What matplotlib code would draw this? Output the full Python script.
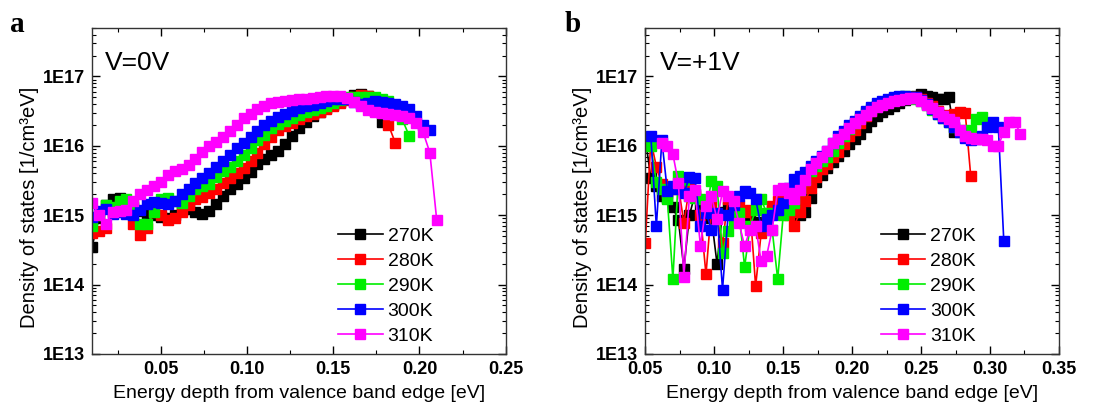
import numpy as np
import matplotlib.pyplot as plt
from matplotlib.ticker import MultipleLocator, FixedLocator, FuncFormatter, LogLocator, NullFormatter

plt.rcParams['font.family'] = ['Liberation Sans', 'DejaVu Sans']

# --- data -------------------------------------------------------------
# density of states, in units of 1E15 1/cm^3eV
temps = ["270K", "280K", "290K", "300K", "310K"]
colors = ["#000000", "#ff0000", "#00ee00", "#0000ff", "#ff00ff"]
UNIT = 1e15

# (a) V = 0 V  -- energy grid, 0.004 eV steps
energy_a = [0.010, 0.014, 0.018, 0.022, 0.026, 0.030, 0.034, 0.038, 0.042, 0.046,
            0.050, 0.054, 0.058, 0.062, 0.066, 0.070, 0.074, 0.078, 0.082, 0.086,
            0.090, 0.094, 0.098, 0.102, 0.106, 0.110, 0.114, 0.118, 0.122, 0.126,
            0.130, 0.134, 0.138, 0.142, 0.146, 0.150, 0.154, 0.158, 0.162, 0.166,
            0.170, 0.174, 0.178, 0.182, 0.186, 0.190, 0.194, 0.198, 0.202, 0.206,
            0.210]

dos_a_270 = [0.35, 0.9, 1.4, 1.7, 1.8, 1.6, 1.3, 1.15, 1.05, 1.0,
             0.95, 0.9, 1.0, 1.2, 1.25, 1.1, 1.05, 1.15, 1.45, 1.9,
             2.4, 2.8, 3.4, 4.2, 5.4, 6.5, 7.5, 8.5, 10.5, 14,
             18, 22, 27, 31, 35, 39, 43, 48, 54, 56,
             53, 32, 22]
dos_a_280 = [0.55, 0.6, 0.65, 1.1, 1.4, 1.3, 0.75, 0.52, 0.65, 1.1,
             1.0, 0.85, 0.9, 1.1, 1.4, 1.7, 1.85, 2.1, 2.4, 2.9,
             3.4, 4.0, 4.8, 6.0, 7.8, 10.5, 13.5, 17, 19.5, 21.5,
             24, 27, 29, 31, 34, 38, 42, 46, 51, 54,
             52, 42, 32, 20, 11]
dos_a_290 = [0.7, 1.0, 1.4, 1.3, 1.6, 1.7, 1.4, 0.75, 0.75, 1.1,
             1.7, 1.75, 1.6, 1.5, 1.9, 2.4, 2.6, 2.8, 3.6, 4.3,
             5.0, 6.0, 7.4, 9.2, 12, 14.5, 18, 20.5, 22.5, 25,
             28, 30.5, 33, 35, 38, 42, 46, 50, 51, 50,
             50, 50, 48, 44, 36, 24, 14]
dos_a_300 = [0.95, 1.15, 1.25, 1.05, 1.1, 1.05, 1.0, 1.2, 1.45, 1.55,
             1.5, 1.45, 1.6, 2.0, 2.4, 2.9, 3.4, 4.0, 4.9, 6.0,
             7.5, 9.2, 11, 13.5, 16.5, 20, 23, 26, 29, 32,
             35, 37.5, 39, 41, 44, 47, 48, 47, 43, 40,
             42, 44, 43, 42, 40, 38, 34, 27, 20, 17]
dos_a_310 = [1.5, 1.0, 0.75, 1.1, 1.15, 1.2, 1.6, 2.0, 2.3, 2.6,
             3.0, 3.8, 4.3, 4.7, 5.3, 6.5, 8.2, 9.8, 11.5, 13.5,
             16.5, 20, 25, 29, 34, 38, 41, 43, 45, 46,
             47, 48, 49, 50, 52, 53, 52, 49, 43, 37,
             33, 31, 30, 29, 28, 27, 25, 21, 16, 8,
             0.85]

# (b) V = +1 V  -- energy grid, 0.004 eV steps
energy_b = [0.050, 0.054, 0.058, 0.062, 0.066, 0.070, 0.074, 0.078, 0.082, 0.086,
            0.090, 0.094, 0.098, 0.102, 0.106, 0.110, 0.114, 0.118, 0.122, 0.126,
            0.130, 0.134, 0.138, 0.142, 0.146, 0.150, 0.154, 0.158, 0.162, 0.166,
            0.170, 0.174, 0.178, 0.182, 0.186, 0.190, 0.194, 0.198, 0.202, 0.206,
            0.210, 0.214, 0.218, 0.222, 0.226, 0.230, 0.234, 0.238, 0.242, 0.246,
            0.250, 0.254, 0.258, 0.262, 0.266, 0.270, 0.274, 0.278, 0.282, 0.286,
            0.290, 0.294, 0.298, 0.302, 0.306, 0.310, 0.314, 0.318, 0.322]
start_b = [0, 0, 0, 1, 3]   # first grid point of each curve

dos_b_270 = [13, 3.4, 2.6, 1.9, 1.8, 1.3, 0.85, 0.17, 1.0, 2.0,
             1.3, 1.0, 0.9, 0.2, 1.1, 1.3, 1.4, 1.2, 1.1, 1.0,
             0.8, 0.62, 0.9, 1.2, 1.3, 1.2, 1.05, 1.0, 1.0, 1.1,
             1.8, 3.0, 3.8, 4.8, 5.8, 7.2, 8.5, 10.5, 12.5, 15,
             19, 23, 27, 31, 34, 37, 41, 46, 50, 53,
             55, 53, 50, 47, 48, 51, 16]
dos_b_280 = [0.4, 12, 5.0, 2.8, 2.1, 2.4, 2.6, 0.77, 2.6, 1.9,
             1.0, 0.14, 1.35, 0.9, 0.4, 1.7, 1.5, 1.35, 1.1, 1.2,
             0.095, 0.55, 0.9, 1.35, 1.6, 1.7, 1.0, 0.7, 1.1, 1.6,
             2.5, 3.5, 4.6, 5.5, 6.8, 8.2, 10.5, 14, 17, 21,
             27, 32, 37, 41, 44, 47, 49, 50, 50, 50,
             47, 42, 37, 32, 28, 27, 29, 31, 30, 3.7]
dos_b_290 = [12, 10, 3.0, 2.4, 1.7, 0.12, 3.7, 3.2, 1.9, 1.8,
             1.7, 1.2, 3.1, 2.6, 0.29, 0.6, 0.8, 1.08, 0.18, 0.69,
             1.2, 1.7, 1.08, 0.62, 0.12, 1.0, 1.2, 1.5, 2.3, 3.2,
             4.4, 5.2, 6.0, 6.8, 8.5, 11, 14, 17.5, 21, 25,
             30, 34, 38, 41, 45, 49, 51, 52, 50, 48,
             45, 39, 33, 29, 25, 22, 19, 17, 16, 17,
             24, 26, 20]
dos_b_300 = [14, 0.69, 12, 2.2, 2.6, 2.4, 2.1, 3.5, 3.4, 0.69,
             1.08, 0.62, 1.08, 0.085, 1.0, 1.4, 1.9, 2.2, 2.1, 1.7,
             0.69, 0.87, 1.0, 1.2, 1.5, 2.5, 3.3, 3.7, 4.2, 5.1,
             6.0, 7.2, 8.5, 11, 14, 16.5, 20, 23, 27, 32,
             36, 41, 45, 48, 50, 52, 52, 51, 50, 46,
             40, 34, 29, 25, 22, 19, 16, 13, 12, 12.5,
             14, 19, 22, 19, 0.42]
dos_b_310 = [11, 10, 7.6, 2.9, 0.13, 1.9, 2.3, 0.36, 1.35, 1.9,
             0.87, 2.2, 1.9, 1.6, 0.77, 0.36, 0.62, 0.69, 0.22, 0.26,
             0.62, 2.3, 2.5, 2.1, 1.7, 2.3, 3.2, 4.6, 5.6, 7.0,
             8.5, 11, 12.5, 15, 18, 21, 24, 28, 32, 36,
             39, 42, 44, 46, 48, 49, 49, 45, 39, 35,
             31, 27, 24, 22, 17, 14, 13, 12.5, 12.5, 12,
             10, 10, 16, 22, 22, 15]

series_a = [dos_a_270, dos_a_280, dos_a_290, dos_a_300, dos_a_310]
series_b = [dos_b_270, dos_b_280, dos_b_290, dos_b_300, dos_b_310]

# --- plot -------------------------------------------------------------
fig = plt.figure(figsize=(11.18, 4.12), dpi=100)
ax_a = fig.add_axes([0.0823, 0.1408, 0.3700, 0.7913])
ax_b = fig.add_axes([0.5772, 0.1408, 0.3700, 0.7913])

for i, (vals, c, t) in enumerate(zip(series_a, colors, temps)):
    x = energy_a[:len(vals)]
    ax_a.plot(x, np.array(vals) * UNIT, color=c, lw=1.2, marker="s", ms=7,
              mec=c, mfc=c, label=t)

for i, (vals, c, t) in enumerate(zip(series_b, colors, temps)):
    s = start_b[i]
    x = energy_b[s:s + len(vals)]
    ax_b.plot(x, np.array(vals) * UNIT, color=c, lw=1.2, marker="s", ms=7,
              mec=c, mfc=c, label=t)

def dec_fmt(v, pos):
    return "1E%d" % int(round(np.log10(v)))

for ax, xlim, txt, tx, lx in [(ax_a, (0.01, 0.25), "V=0V", 0.03, 0.846),
                              (ax_b, (0.05, 0.35), "V=+1V", 0.035, 0.82)]:
    ax.set_yscale("log")
    ax.set_ylim(1e13, 5e17)
    ax.set_xlim(*xlim)
    ax.xaxis.set_major_locator(MultipleLocator(0.05))
    ax.xaxis.set_minor_locator(MultipleLocator(0.025))
    ax.xaxis.set_major_formatter(FuncFormatter(lambda v, p: "%.2f" % v))
    ax.yaxis.set_major_locator(FixedLocator([1e13, 1e14, 1e15, 1e16, 1e17]))
    ax.yaxis.set_major_formatter(FuncFormatter(dec_fmt))
    ax.yaxis.set_minor_locator(LogLocator(base=10, subs=np.arange(2, 10), numticks=20))
    ax.yaxis.set_minor_formatter(NullFormatter())
    ax.tick_params(which="both", direction="in", top=True, right=True)
    ax.tick_params(which="major", length=6, width=1, labelsize=13, pad=5)
    ax.tick_params(which="minor", length=3, width=0.8)
    for lab in ax.get_xticklabels() + ax.get_yticklabels():
        lab.set_fontweight("bold")
    for sp in ax.spines.values():
        sp.set_linewidth(1.0)
        sp.set_color("#333333")
    ax.set_xlabel("Energy depth from valence band edge [eV]", fontsize=14, labelpad=5)
    ax.set_ylabel("Density of states [1/cm\u00b3eV]", fontsize=14.5, labelpad=3)
    ax.yaxis.label.set_y(0.45)
    ax.text(tx, 0.87, txt, transform=ax.transAxes, fontsize=19, va="baseline")
    ax.legend(loc="lower right", bbox_to_anchor=(lx, 0.0), frameon=False, fontsize=14,
              numpoints=1, handlelength=2.3, handletextpad=0.25, labelspacing=0.38,
              borderaxespad=0.05)

fig.text(0.009, 0.922, "a", family="Liberation Serif", fontweight="bold", fontsize=21)
fig.text(0.505, 0.922, "b", family="Liberation Serif", fontweight="bold", fontsize=21)

fig.savefig("out.png", dpi=100)
